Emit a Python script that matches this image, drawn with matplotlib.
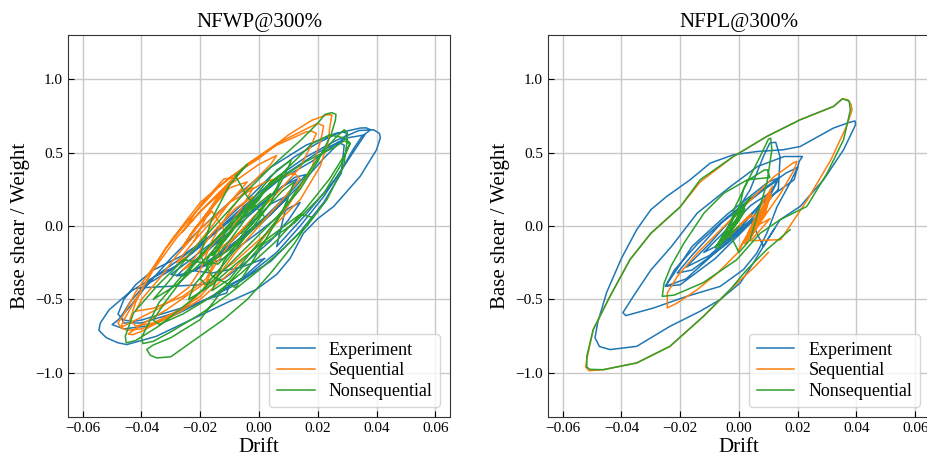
import matplotlib
matplotlib.use('Agg')
import matplotlib.pyplot as plt

plt.rcParams['font.family'] = ['Liberation Serif', 'DejaVu Serif']

# hysteresis traces as (drift, base shear / weight)
exp_nfwp = [
    (0.000, 0.00), (0.005, 0.10), (0.009, 0.20), (0.004, 0.15), (-0.006, -0.04), (-0.012, -0.16),
    (-0.007, -0.10), (0.004, 0.08), (0.011, 0.25), (0.013, 0.32), (0.008, 0.27), (-0.004, 0.06),
    (-0.016, -0.14), (-0.026, -0.30), (-0.028, -0.34), (-0.022, -0.30), (-0.010, -0.14), (0.002, 0.06),
    (0.012, 0.26), (0.016, 0.35), (0.012, 0.33), (0.000, 0.14), (-0.014, -0.08), (-0.024, -0.24),
    (-0.030, -0.33), (-0.026, -0.34), (-0.016, -0.24), (-0.004, -0.06), (0.006, 0.12), (0.014, 0.28),
    (0.022, 0.46), (0.028, 0.58), (0.030, 0.625), (0.029, 0.64), (0.026, 0.63), (0.016, 0.55), (0.004, 0.40),
    (-0.008, 0.20), (-0.020, -0.02), (-0.030, -0.22), (-0.038, -0.40), (-0.044, -0.55), (-0.048, -0.64),
    (-0.050, -0.671), (-0.046, -0.70), (-0.038, -0.68), (-0.028, -0.60), (-0.018, -0.50), (-0.011, -0.456),
    (-0.010, -0.40), (-0.004, -0.34), (0.006, -0.18), (0.014, 0.00), (0.022, 0.20), (0.028, 0.38),
    (0.032, 0.52), (0.035, 0.61), (0.038, 0.655), (0.0365, 0.668), (0.0345, 0.667), (0.027, 0.633), (0.020, 0.565),
    (0.012, 0.47), (0.004, 0.34), (-0.004, 0.18), (-0.012, 0.03), (-0.020, -0.14), (-0.028, -0.27),
    (-0.036, -0.35), (-0.044, -0.45), (-0.051, -0.57), (-0.054, -0.66), (-0.0545, -0.71), (-0.052, -0.76),
    (-0.048, -0.795), (-0.045, -0.807), (-0.035, -0.751), (-0.023, -0.637), (-0.010, -0.513), (-0.001, -0.433),
    (0.006, -0.33), (0.0106, -0.22), (0.0151, -0.05), (0.020, 0.05), (0.0254, 0.133), (0.0344, 0.337),
    (0.040, 0.519), (0.0413, 0.60), (0.041, 0.63), (0.039, 0.655), (0.034, 0.65), (0.026, 0.58),
    (0.016, 0.47), (0.006, 0.33), (-0.006, 0.12), (-0.016, -0.06), (-0.026, -0.20), (-0.036, -0.30),
    (-0.042, -0.40), (-0.046, -0.50), (-0.048, -0.60), (-0.046, -0.64), (-0.043, -0.65), (-0.040, -0.64),
    (-0.030, -0.58), (-0.020, -0.52), (-0.008, -0.40), (0.004, -0.24), (0.014, -0.04), (0.022, 0.16),
    (0.028, 0.36), (0.029, 0.55), (0.027, 0.57), (0.018, 0.44), (0.006, 0.30), (-0.006, 0.10),
    (-0.018, -0.10), (-0.030, -0.30), (-0.040, -0.42), (-0.0416, -0.422), (-0.020, -0.40), (-0.012, -0.36),
    (-0.004, -0.24), (0.004, -0.10), (0.010, 0.04), (0.014, 0.16), (0.010, 0.12), (0.000, -0.04),
    (-0.012, -0.22), (-0.022, -0.30), (-0.018, -0.26), (-0.006, -0.08), (0.006, 0.12), (0.010, 0.20),
    (0.006, -0.14), (0.016, 0.08), (0.026, 0.32), (0.032, 0.50), (0.035, 0.59), (0.036, 0.62),
    (0.030, 0.60), (0.020, 0.50), (0.008, 0.34), (-0.004, 0.14), (-0.016, -0.06), (-0.028, -0.24),
    (-0.038, -0.38), (-0.044, -0.52), (-0.047, -0.62), (-0.046, -0.66), (-0.040, -0.66), (-0.030, -0.60),
    (-0.018, -0.50), (-0.006, -0.36), (0.002, -0.22), (-0.006, -0.28), (-0.016, -0.32), (-0.024, -0.30),
    (-0.020, -0.22), (-0.012, -0.06),
]

seq_nfwp = [
    (-0.004, 0.00), (-0.010, -0.10), (-0.016, -0.20), (-0.012, -0.10), (-0.006, 0.08), (-0.002, 0.20),
    (-0.008, 0.12), (-0.016, -0.05), (-0.022, -0.22), (-0.026, -0.30), (-0.020, -0.22), (-0.012, -0.04),
    (-0.006, 0.12), (-0.002, 0.26), (-0.006, 0.24), (-0.014, 0.08), (-0.022, -0.10), (-0.028, -0.25),
    (-0.024, -0.20), (-0.016, 0.00), (-0.010, 0.16), (-0.004, 0.30), (-0.010, 0.26), (-0.018, 0.08),
    (-0.024, -0.08), (-0.022, -0.02), (-0.014, 0.18), (-0.008, 0.33), (-0.012, 0.32), (-0.020, 0.14),
    (-0.026, -0.04), (-0.020, 0.10), (-0.010, 0.28), (0.000, 0.42), (0.006, 0.48), (0.004, 0.42),
    (-0.004, 0.26), (-0.010, 0.10), (-0.016, -0.10), (-0.020, -0.30), (-0.024, -0.42), (-0.028, -0.48),
    (-0.034, -0.56), (-0.042, -0.64), (-0.047, -0.69), (-0.048, -0.66), (-0.046, -0.60), (-0.042, -0.45),
    (-0.036, -0.28), (-0.030, -0.10), (-0.020, 0.16), (-0.010, 0.33), (0.000, 0.46), (0.010, 0.62),
    (0.018, 0.72), (0.0231, 0.757), (0.0248, 0.757), (0.0245, 0.72), (0.024, 0.66), (0.0237, 0.587),
    (0.0208, 0.405), (0.014, 0.179), (0.0027, -0.047), (-0.0087, -0.25), (-0.020, -0.41), (-0.0314, -0.569),
    (-0.040, -0.67), (-0.0445, -0.735), (-0.043, -0.74), (-0.040, -0.717), (-0.0325, -0.637), (-0.0234, -0.524),
    (-0.019, -0.433), (-0.016, -0.30), (-0.010, -0.12), (-0.002, 0.06), (0.006, 0.22), (0.014, 0.40),
    (0.018, 0.56), (0.0195, 0.63), (0.018, 0.645), (0.016, 0.64), (0.006, 0.55), (-0.004, 0.42),
    (-0.014, 0.26), (-0.024, 0.04), (-0.032, -0.16), (-0.038, -0.36), (-0.042, -0.52), (-0.044, -0.64),
    (-0.042, -0.68), (-0.036, -0.66), (-0.028, -0.58), (-0.020, -0.48), (-0.014, -0.34), (-0.008, -0.18),
    (0.000, 0.00), (0.008, 0.18), (0.014, 0.32), (0.012, 0.36), (0.002, 0.30), (-0.010, 0.16),
    (-0.020, -0.02), (-0.028, -0.20), (-0.034, -0.36), (-0.040, -0.50), (-0.042, -0.58), (-0.036, -0.56),
    (-0.026, -0.48), (-0.018, -0.36), (-0.014, -0.20), (-0.012, -0.02), (-0.016, 0.10), (-0.022, -0.02),
    (-0.026, -0.14), (-0.020, 0.02), (-0.014, 0.20), (-0.010, 0.30), (-0.006, 0.38), (-0.018, 0.14),
    (-0.028, -0.08), (-0.036, -0.30), (-0.042, -0.50), (-0.046, -0.64), (-0.047, -0.69), (-0.045, -0.71),
    (-0.040, -0.70), (-0.030, -0.62), (-0.020, -0.50), (-0.010, -0.32), (0.000, -0.12), (0.010, 0.14),
    (0.018, 0.40), (0.021, 0.58), (0.022, 0.68), (0.020, 0.70), (0.016, 0.66), (0.006, 0.56),
    (-0.004, 0.42), (-0.012, 0.24), (-0.018, 0.06), (-0.022, -0.10),
]

non_nfwp = [
    (-0.006, -0.05), (0.000, 0.10), (0.004, 0.22), (-0.002, 0.12), (-0.010, -0.10), (-0.016, -0.24),
    (-0.010, -0.16), (-0.002, 0.02), (0.006, 0.26), (0.008, 0.36), (0.004, 0.30), (-0.006, 0.06),
    (-0.014, -0.16), (-0.020, -0.36), (-0.018, -0.40), (-0.012, -0.26), (-0.004, -0.06), (0.004, 0.16),
    (0.010, 0.40), (0.011, 0.45), (0.006, 0.38), (-0.004, 0.14), (-0.012, -0.06), (-0.018, -0.24),
    (-0.014, -0.26), (-0.006, -0.10), (0.002, 0.06), (-0.004, 0.20), (-0.008, 0.34), (-0.004, 0.42),
    (-0.010, 0.28), (-0.016, 0.05), (-0.020, -0.20), (-0.016, -0.34), (-0.008, -0.42), (-0.004, -0.30),
    (0.002, -0.10), (0.008, 0.10), (0.012, 0.30), (0.008, 0.24), (-0.004, -0.02), (-0.012, -0.24),
    (-0.016, -0.44), (-0.010, -0.36), (-0.002, -0.16), (0.006, 0.04), (0.014, 0.28), (0.020, 0.46),
    (0.026, 0.60), (0.029, 0.655), (0.030, 0.64), (0.030, 0.58), (0.0288, 0.405), (0.0231, 0.179),
    (0.0163, 0.00), (0.008, -0.16), (0.000, -0.30), (-0.010, -0.46), (-0.020, -0.60), (-0.030, -0.72),
    (-0.036, -0.785), (-0.0395, -0.80), (-0.040, -0.76), (-0.038, -0.68), (-0.034, -0.52), (-0.028, -0.38),
    (-0.020, -0.20), (-0.010, 0.00), (0.000, 0.20), (0.010, 0.40), (0.018, 0.56), (0.024, 0.62),
    (0.029, 0.60), (0.031, 0.565), (0.028, 0.42), (0.022, 0.22), (0.012, 0.02), (0.0004, -0.139),
    (-0.0064, -0.297), (-0.0132, -0.456), (-0.020, -0.637), (-0.030, -0.76), (-0.036, -0.81), (-0.0382, -0.84),
    (-0.037, -0.88), (-0.0348, -0.898), (-0.030, -0.89), (-0.0234, -0.796), (-0.0121, -0.637), (-0.004, -0.50),
    (0.004, -0.32), (0.012, -0.12), (0.018, 0.06), (0.014, 0.08), (0.002, -0.10), (-0.008, -0.26),
    (-0.016, -0.40), (-0.024, -0.50), (-0.022, -0.40), (-0.016, -0.26), (-0.0257, -0.229), (-0.0348, -0.41),
    (-0.0427, -0.592), (-0.0455, -0.75), (-0.0452, -0.795), (-0.042, -0.78), (-0.034, -0.68), (-0.024, -0.52),
    (-0.014, -0.34), (-0.004, -0.14), (0.006, 0.06), (0.014, 0.25), (0.020, 0.44), (0.0245, 0.62),
    (0.026, 0.72), (0.0262, 0.76), (0.0248, 0.772), (0.0225, 0.76), (0.020, 0.70), (0.014, 0.58),
    (0.004, 0.40), (-0.006, 0.20), (-0.016, -0.02), (-0.024, -0.20), (-0.030, -0.36), (-0.036, -0.50),
    (-0.028, -0.40), (-0.018, -0.22), (-0.010, -0.04), (-0.004, 0.10), (-0.010, -0.06), (-0.016, -0.20),
    (-0.008, 0.00), (0.000, 0.18), (0.004, 0.30), (-0.002, 0.14), (-0.008, 0.06), (-0.018, -0.16),
    (-0.026, -0.36), (-0.032, -0.52), (-0.036, -0.64), (-0.034, -0.67), (-0.026, -0.60), (-0.016, -0.48),
    (-0.006, -0.32), (0.006, -0.10), (0.016, 0.12), (0.024, 0.32), (0.029, 0.48), (0.031, 0.56),
    (0.029, 0.58), (0.026, 0.54), (0.016, 0.44), (0.004, 0.28), (-0.004, 0.12),
]

exp_nfpl = [
    (0.000, 0.00), (0.006, 0.12), (0.010, 0.22), (0.004, 0.14), (-0.006, -0.06), (-0.012, -0.18),
    (-0.006, -0.12), (0.004, 0.04), (0.012, 0.27), (0.013, 0.31), (0.008, 0.24), (-0.006, 0.02),
    (-0.016, -0.20), (-0.021, -0.32), (-0.016, -0.30), (-0.004, -0.12), (0.008, 0.10), (0.0137, 0.33),
    (0.010, 0.30), (-0.004, 0.08), (-0.016, -0.14), (-0.025, -0.41), (-0.020, -0.40), (-0.008, -0.22),
    (0.004, 0.02), (0.012, 0.22), (0.0134, 0.25), (0.014, 0.47), (0.0125, 0.570), (0.0105, 0.565),
    (0.0083, 0.473), (0.0038, 0.247), (-0.002, 0.06), (-0.010, -0.12), (-0.018, -0.28), (-0.010, -0.20),
    (0.000, -0.02), (0.008, 0.16), (0.0188, 0.315), (0.0205, 0.44), (0.0216, 0.473), (0.0154, 0.473),
    (0.0063, 0.405), (-0.0028, 0.27), (-0.0142, 0.088), (-0.023, -0.14), (-0.030, -0.30), (-0.036, -0.48),
    (-0.0395, -0.59), (-0.0385, -0.61), (-0.0291, -0.558), (-0.0178, -0.479), (-0.0064, -0.411), (0.0015, -0.297),
    (0.0061, -0.184), (0.0095, -0.048), (0.013, 0.133), (0.017, 0.28), (0.020, 0.40), (0.016, 0.36),
    (0.006, 0.22), (-0.004, 0.06), (-0.014, -0.12), (-0.022, -0.30), (-0.025, -0.41), (-0.018, -0.36),
    (-0.008, -0.18), (0.004, 0.04), (0.0083, -0.139), (0.014, 0.043), (0.0208, 0.133), (0.0288, 0.315),
    (0.0356, 0.519), (0.0397, 0.69), (0.0395, 0.715), (0.0375, 0.705), (0.0322, 0.667), (0.0208, 0.541),
    (0.0151, 0.519), (0.0061, 0.507), (-0.0019, 0.485), (-0.0098, 0.428), (-0.0166, 0.315), (-0.0246, 0.201),
    (-0.030, 0.111), (-0.0348, -0.025), (-0.040, -0.22), (-0.045, -0.45), (-0.048, -0.65), (-0.049, -0.76),
    (-0.0475, -0.82), (-0.0439, -0.841), (-0.0348, -0.819), (-0.0235, -0.683), (-0.0132, -0.58), (-0.0064, -0.501),
    (0.0004, -0.388), (0.0049, -0.252), (0.0083, -0.139), (0.012, -0.02),
]

seq_nfpl = [
    (0.000, 0.00), (0.004, 0.08), (-0.004, -0.08), (0.002, 0.04), (0.008, 0.10), (0.011, 0.20),
    (0.006, 0.04), (0.002, -0.10), (0.006, 0.02), (0.0114, 0.27), (0.008, 0.16), (0.003, -0.05),
    (0.004, -0.08), (0.009, 0.08), (0.010, 0.20), (0.005, 0.02), (-0.0005, -0.184), (-0.0073, -0.32),
    (-0.0142, -0.433), (-0.021, -0.524), (-0.0244, -0.558), (-0.0244, -0.456), (-0.021, -0.343),
    (-0.0142, -0.184), (-0.0051, -0.003), (0.004, 0.179), (0.012, 0.337), (0.0185, 0.43), (0.0197, 0.44),
    (0.0188, 0.383), (0.0142, 0.224), (0.0086, 0.065), (0.003, -0.06), (0.000, -0.16), (0.004, -0.02),
    (0.010, 0.16), (0.006, 0.00), (0.002, -0.12), (0.005, -0.04), (0.009, 0.10), (0.011, 0.22),
    (0.007, 0.06), (0.003, -0.08), (0.006, 0.00), (0.010, 0.18), (0.008, 0.12), (0.004, -0.02),
    (0.0106, 0.05), (0.004, -0.10), (0.0142, -0.093), (0.0233, 0.179), (0.0313, 0.451),
    (0.0366, 0.678), (0.0385, 0.79), (0.0381, 0.83), (0.0370, 0.86), (0.0352, 0.866), (0.0322, 0.814),
    (0.0208, 0.723), (0.0095, 0.61), (-0.0019, 0.473), (-0.0132, 0.30), (-0.020, 0.13), (-0.030, -0.05),
    (-0.0371, -0.229), (-0.0439, -0.479), (-0.0496, -0.705), (-0.0515, -0.88), (-0.0522, -0.96),
    (-0.051, -0.985), (-0.0462, -0.978), (-0.0348, -0.932), (-0.0235, -0.819), (-0.0121, -0.615), (-0.003, -0.433),
    (0.0052, -0.28), (0.010, -0.18),
]

non_nfpl = [
    (0.000, 0.00), (-0.004, -0.08), (0.002, 0.10), (-0.006, -0.10), (0.001, 0.16), (-0.008, -0.15),
    (-0.002, 0.05), (0.004, 0.20), (-0.003, -0.02), (-0.008, -0.14), (-0.004, -0.06), (0.002, 0.12),
    (0.000, 0.04), (-0.006, -0.12), (-0.007, -0.15), (-0.003, -0.02), (0.002, 0.14), (0.000, 0.06),
    (-0.005, -0.10), (-0.001, 0.02), (0.0015, 0.247), (0.0072, 0.473), (0.010, 0.59), (0.0108, 0.598),
    (0.0112, 0.519), (0.0095, 0.292), (0.0061, 0.065), (0.0038, -0.093), (0.000, -0.18), (-0.003, -0.06),
    (-0.002, 0.10), (0.003, 0.31), (0.0085, 0.38), (0.0097, 0.383), (0.0105, 0.33), (0.0029, 0.315),
    (-0.0051, 0.224), (-0.0119, 0.088), (-0.0187, -0.116), (-0.0232, -0.275), (-0.0255, -0.39), (-0.0261, -0.479),
    (-0.022, -0.47), (-0.0122, -0.386), (-0.0008, -0.23), (0.0072, -0.05), (0.014, 0.043), (0.0231, 0.133),
    (0.030, 0.36), (0.0356, 0.587), (0.0379, 0.789), (0.0375, 0.85), (0.0352, 0.866), (0.0322, 0.814),
    (0.0208, 0.723), (0.0095, 0.61), (-0.0019, 0.473), (-0.0132, 0.315), (-0.020, 0.13), (-0.030, -0.05),
    (-0.0371, -0.229), (-0.0439, -0.479), (-0.0496, -0.705), (-0.0518, -0.887), (-0.0518, -0.96), (-0.0507, -0.976),
    (-0.0462, -0.978), (-0.0348, -0.932), (-0.0235, -0.819), (-0.0121, -0.615), (-0.003, -0.433), (0.0027, -0.297),
    (0.0095, -0.16), (0.0174, -0.025),
]

titles = ['NFWP@300%', 'NFPL@300%']
labels = ['Experiment', 'Sequential', 'Nonsequential']
xticks = [-0.06, -0.04, -0.02, 0.00, 0.02, 0.04, 0.06]
yticks = [-1.0, -0.5, 0.0, 0.5, 1.0]

fig = plt.figure(figsize=(9.28, 4.59), dpi=100)
ax1 = fig.add_axes([0.0733, 0.0915, 0.4116, 0.8322])
ax2 = fig.add_axes([0.5905, 0.0915, 0.4116, 0.8322])

panels = [(ax1, [exp_nfwp, seq_nfwp, non_nfwp]), (ax2, [exp_nfpl, seq_nfpl, non_nfpl])]
colors = ['tab:blue', 'tab:orange', 'tab:green']

for (ax, series), title in zip(panels, titles):
    for data, lab, c in zip(series, labels, colors):
        d = [p[0] for p in data]
        v = [p[1] for p in data]
        ax.plot(d, v, color=c, lw=1.1, label=lab)
    ax.set_xlim(-0.065, 0.065)
    ax.set_ylim(-1.3, 1.3)
    ax.set_xticks(xticks)
    ax.set_xticklabels(['\u22120.06', '\u22120.04', '\u22120.02', '0.00', '0.02', '0.04', '0.06'])
    ax.set_yticks(yticks)
    ax.set_yticklabels(['\u22121.0', '\u22120.5', '0.0', '0.5', '1.0'])
    ax.tick_params(direction='in', labelsize=11, length=4)
    ax.grid(True, color='#c8c8c8', lw=1.0)
    ax.set_axisbelow(True)
    ax.set_title(title, fontsize=15)
    ax.set_xlabel('Drift', fontsize=15, labelpad=2)
    ax.set_ylabel('Base shear / Weight', fontsize=15)
    ax.legend(loc='lower right', fontsize=13, handlelength=2.1, labelspacing=0.2,
              handletextpad=0.8, borderaxespad=0.55)
    for s in ax.spines.values():
        s.set_color('#333333')

fig.savefig('out.png', dpi=100)
